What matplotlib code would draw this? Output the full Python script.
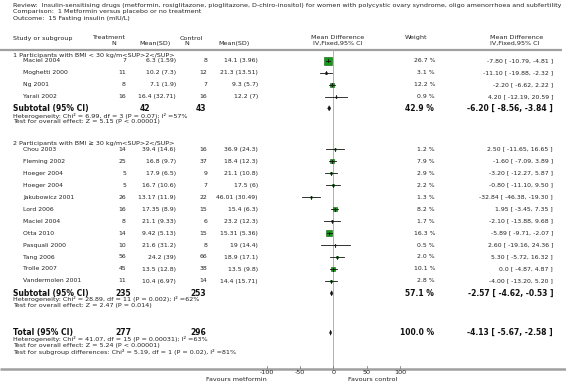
import matplotlib
matplotlib.use("Agg")
import matplotlib.pyplot as plt

# ---------------- data ----------------
title_lines = [
    "Review:  Insulin-sensitising drugs (metformin, rosiglitazone, pioglitazone, D-chiro-inositol) for women with polycystic ovary syndrome, oligo amenorrhoea and subfertility",
    "Comparison:  1 Metformin versus placebo or no treatment",
    "Outcome:  15 Fasting insulin (mIU/L)",
]

g1_label = "1 Participants with BMI < 30 kg/m<SUP>2</SUP>"
g1_studies = ["Maciel 2004", "Moghetti 2000", "Ng 2001", "Yarali 2002"]
g1_t_n = [7, 11, 8, 16]
g1_t_mean = [6.3, 10.2, 7.1, 16.4]
g1_t_sd = [1.59, 7.3, 1.9, 32.71]
g1_c_n = [8, 12, 7, 16]
g1_c_mean = [14.1, 21.3, 9.3, 12.2]
g1_c_sd = [3.96, 13.51, 5.7, 7]
g1_weight = [26.7, 3.1, 12.2, 0.9]
g1_md = [-7.80, -11.10, -2.20, 4.20]
g1_lo = [-10.79, -19.88, -6.62, -12.19]
g1_hi = [-4.81, -2.32, 2.22, 20.59]
g1_sub = dict(tn=42, cn=43, w=42.9, md=-6.20, lo=-8.56, hi=-3.84)
g1_het = ["Heterogeneity: Chi² = 6.99, df = 3 (P = 0.07); I² =57%",
          "Test for overall effect: Z = 5.15 (P < 0.00001)"]

g2_label = "2 Participants with BMI ≥ 30 kg/m<SUP>2</SUP>"
g2_studies = ["Chou 2003", "Fleming 2002", "Hoeger 2004", "Hoeger 2004", "Jakubowicz 2001",
              "Lord 2006", "Maciel 2004", "Otta 2010", "Pasquali 2000", "Tang 2006",
              "Trolle 2007", "Vandermolen 2001"]
g2_t_n = [14, 25, 5, 5, 26, 16, 8, 14, 10, 56, 45, 11]
g2_t_mean = [39.4, 16.8, 17.9, 16.7, 13.17, 17.35, 21.1, 9.42, 21.6, 24.2, 13.5, 10.4]
g2_t_sd = [14.6, 9.7, 6.5, 10.6, 11.9, 8.9, 9.33, 5.13, 31.2, 39, 12.8, 6.97]
g2_c_n = [16, 37, 9, 7, 22, 15, 6, 15, 8, 66, 38, 14]
g2_c_mean = [36.9, 18.4, 21.1, 17.5, 46.01, 15.4, 23.2, 15.31, 19, 18.9, 13.5, 14.4]
g2_c_sd = [24.3, 12.3, 10.8, 6, 30.49, 6.3, 12.3, 5.36, 14.4, 17.1, 9.8, 15.71]
g2_weight = [1.2, 7.9, 2.9, 2.2, 1.3, 8.2, 1.7, 16.3, 0.5, 2.0, 10.1, 2.8]
g2_md = [2.50, -1.60, -3.20, -0.80, -32.84, 1.95, -2.10, -5.89, 2.60, 5.30, 0.0, -4.00]
g2_lo = [-11.65, -7.09, -12.27, -11.10, -46.38, -3.45, -13.88, -9.71, -19.16, -5.72, -4.87, -13.20]
g2_hi = [16.65, 3.89, 5.87, 9.50, -19.30, 7.35, 9.68, -2.07, 24.36, 16.32, 4.87, 5.20]
g2_sub = dict(tn=235, cn=253, w=57.1, md=-2.57, lo=-4.62, hi=-0.53)
g2_het = ["Heterogeneity: Chi² = 28.89, df = 11 (P = 0.002); I² =62%",
          "Test for overall effect: Z = 2.47 (P = 0.014)"]

total = dict(tn=277, cn=296, w=100.0, md=-4.13, lo=-5.67, hi=-2.58)
total_het = ["Heterogeneity: Chi² = 41.07, df = 15 (P = 0.00031); I² =63%",
             "Test for overall effect: Z = 5.24 (P < 0.00001)",
             "Test for subgroup differences: Chi² = 5.19, df = 1 (P = 0.02), I² =81%"]

x_ticks = [-100, -50, 0, 50, 100]
favours_left = "Favours metformin"
favours_right = "Favours control"

# ---------------- layout ----------------
W, H = 566, 392
fig = plt.figure(figsize=(W / 100, H / 100), dpi=100)
fig.patch.set_facecolor("white")
ax = fig.add_axes([0, 0, 1, 1])
ax.set_xlim(0, W)
ax.set_ylim(H, 0)
ax.axis("off")

# forest axes: -100..100 mapped to pixels 266.7..400
fx0, fx1 = 266.7, 400.0
axf = fig.add_axes([fx0 / W, 0, (fx1 - fx0) / W, 1])
axf.set_xlim(-100, 100)
axf.set_ylim(H, 0)
axf.axis("off")
axf.patch.set_alpha(0)

FS = 4.6     # general text (title, headers, heterogeneity)
FSR = 4.4    # study rows
FSB = 5.5    # bold summaries
TC = "#222222"
LINEC = "#a0a0a0"
FAM = "DejaVu Sans"


def t(x, y, s, ha="left", size=FS, bold=False, color=TC):
    ax.text(x, y, s, ha=ha, va="center", fontsize=size, family=FAM,
            fontweight="bold" if bold else "normal", color=color)


def fmt(v):
    return f"{v:g}"


def fmt_md(m, lo, hi):
    ms = "0.0" if m == 0 else f"{m:.2f}"
    return f"{ms} [ {lo:.2f}, {hi:.2f} ]"


# title
for i, s in enumerate(title_lines):
    t(13, 5 + 6.5 * i, s)

# header
t(13, 38, "Study or subgroup")
t(92, 37.5, "Treatment")
t(114, 43, "N", ha="center")
t(139, 43, "Mean(SD)")
t(180, 38, "Control")
t(187, 43, "N", ha="center")
t(218, 43, "Mean(SD)")
t(338, 37.5, "Mean Difference", ha="center")
t(338, 43, "IV,Fixed,95% CI", ha="center")
t(416, 37.5, "Weight", ha="center")
t(517, 37.5, "Mean Difference", ha="center")
t(515, 43, "IV,Fixed,95% CI", ha="center")

ax.plot([0, 562], [50, 50], color=LINEC, lw=1.6, solid_capstyle="butt")
ax.plot([0, W], [368.5, 368.5], color=LINEC, lw=1.8, solid_capstyle="butt")

# zero line
axf.plot([0, 0], [50, 368], color="#b0b0b0", lw=0.7, zorder=1)


def draw_group(label, ylab, y0, studies, tn, tm, tsd, cn, cm, csd, w, md, lo, hi):
    t(13, ylab, label)
    for i, name in enumerate(studies):
        y = y0 + 12 * i
        t(23, y, name, size=FSR)
        t(126, y, str(tn[i]), ha="right", size=FSR)
        t(176, y, f"{fmt(tm[i])} ({fmt(tsd[i])})", ha="right", size=FSR)
        t(207, y, str(cn[i]), ha="right", size=FSR)
        t(258, y, f"{fmt(cm[i])} ({fmt(csd[i])})", ha="right", size=FSR)
        t(435, y, f"{w[i]:.1f} %", ha="right", size=FSR)
        t(553, y, fmt_md(md[i], lo[i], hi[i]), ha="right", size=FSR)
        side_px = max(1.4 * w[i] ** 0.5, 1.2)
        axf.plot([md[i]], [y], marker="s", ms=side_px * 0.72, mfc="#159a15",
                 mec="#0b5e0b", mew=0.4, zorder=2, clip_on=False)
        axf.plot([lo[i], hi[i]], [y, y], color="#111111", lw=0.6, zorder=3,
                 clip_on=False)
        axf.plot([md[i], md[i]], [y - 1.5, y + 1.5], color="#111111", lw=0.6,
                 zorder=3, clip_on=False)


def draw_summary(label, y, s, txn, cxn, het, hety):
    t(13, y, label, size=FSB, bold=True, color="#111111")
    t(txn, y, str(s["tn"]), size=FSB, bold=True, color="#111111")
    t(cxn, y, str(s["cn"]), size=FSB, bold=True, color="#111111")
    t(434, y, f"{s['w']:.1f} %", ha="right", size=FSB, bold=True, color="#111111")
    t(553, y, fmt_md(s["md"], s["lo"], s["hi"]), ha="right", size=FSB, bold=True,
      color="#111111")
    axf.fill([s["lo"], s["md"], s["hi"], s["md"]], [y, y - 2.6, y, y + 2.6],
             color="#111111", lw=0.3, zorder=3, clip_on=False)
    for k, line in enumerate(het):
        t(13, hety[k], line)


draw_group(g1_label, 55, 60.7, g1_studies, g1_t_n, g1_t_mean, g1_t_sd, g1_c_n,
           g1_c_mean, g1_c_sd, g1_weight, g1_md, g1_lo, g1_hi)
draw_summary("Subtotal (95% CI)", 108.3, g1_sub, 140, 196, g1_het, [115.5, 121.7])

draw_group(g2_label, 143.5, 149, g2_studies, g2_t_n, g2_t_mean, g2_t_sd, g2_c_n,
           g2_c_mean, g2_c_sd, g2_weight, g2_md, g2_lo, g2_hi)
draw_summary("Subtotal (95% CI)", 293.3, g2_sub, 115, 190, g2_het, [299.5, 305.5])

draw_summary("Total (95% CI)", 332.7, total, 115, 190, total_het, [339.3, 345.7, 352.3])

# x axis ticks
for xt in x_ticks:
    axf.plot([xt, xt], [365.8, 367.5], color="#666666", lw=0.5, clip_on=False)
    axf.text(xt, 373, f"{xt:g}", ha="center", va="center", fontsize=FS,
             family=FAM, color=TC)
axf.text(-100, 379.5, favours_left, ha="right", va="center", fontsize=FS,
         family=FAM, color=TC)
axf.text(22, 379.5, favours_right, ha="left", va="center", fontsize=FS,
         family=FAM, color=TC)

fig.savefig("out.png", dpi=100, facecolor="white")
